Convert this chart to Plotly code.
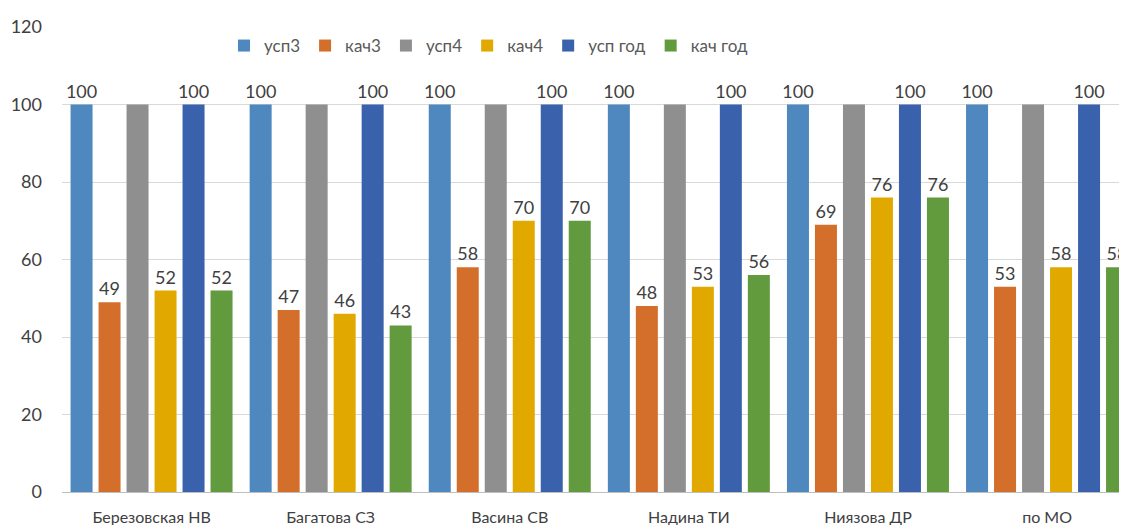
import plotly.graph_objects as go

categories = ["Березовская НВ", "Багатова СЗ", "Васина СВ", "Надина ТИ", "Ниязова ДР", "по МО"]
usp3 = [100, 100, 100, 100, 100, 100]
kach3 = [49, 47, 58, 48, 69, 53]
usp4 = [100, 100, 100, 100, 100, 100]
kach4 = [52, 46, 70, 53, 76, 58]
usp_god = [100, 100, 100, 100, 100, 100]
kach_god = [52, 43, 70, 56, 76, 58]

series = [
    ("усп3", usp3, "#4F88BE", True),
    ("кач3", kach3, "#D46E2B", True),
    ("усп4", usp4, "#8F8F8F", False),
    ("кач4", kach4, "#E1A900", True),
    ("усп год", usp_god, "#3A62AC", True),
    ("кач год", kach_god, "#629A3E", True),
]

FONT = "Lato, Open Sans, sans-serif"
fig = go.Figure()
for name, vals, color, show_text in series:
    fig.add_trace(go.Bar(
        x=categories, y=vals, name=name,
        marker=dict(color=color, line=dict(width=0)),
        text=[str(v) for v in vals] if show_text else None,
        textposition="outside" if show_text else "none",
        textfont=dict(family=FONT, size=18, color="#404040"),
        constraintext="none",
        cliponaxis=False,
    ))

# page body has an 8px margin; the layout compensates for it
W, H = 1127, 525
L, R, T, B = 54, 8, 19, 41
pw = W - L - R
ph = H - T - B
fig.update_layout(
    width=W, height=H,
    margin=dict(l=L, r=R, t=T, b=B, pad=0),
    barmode="group", bargap=0.062, bargroupgap=0.214,
    plot_bgcolor="white", paper_bgcolor="white",
    font=dict(family=FONT, color="#595959"),
    showlegend=True,
    legend=dict(orientation="h", x=(216 - L) / pw, xanchor="left",
                y=(ph + T - 38) / ph, yanchor="middle",
                font=dict(size=17, color="#595959"), bgcolor="rgba(0,0,0,0)",
                itemwidth=30, traceorder="normal"),
)
fig.update_xaxes(
    range=[-0.5, -0.5 + pw / 179.1],
    showgrid=False, showline=False, ticks="",
    tickfont=dict(size=16, color="#404040"), ticklabelstandoff=14,
    automargin=False,
)
fig.update_yaxes(
    range=[0, 120], dtick=20, showgrid=True, gridcolor="#D9D9D9", gridwidth=1,
    zeroline=True, zerolinecolor="#BFBFBF", zerolinewidth=1,
    tickfont=dict(size=18, color="#404040"), ticks="", ticklabelstandoff=19,
    automargin=False,
)
fig.write_html("out.html")
